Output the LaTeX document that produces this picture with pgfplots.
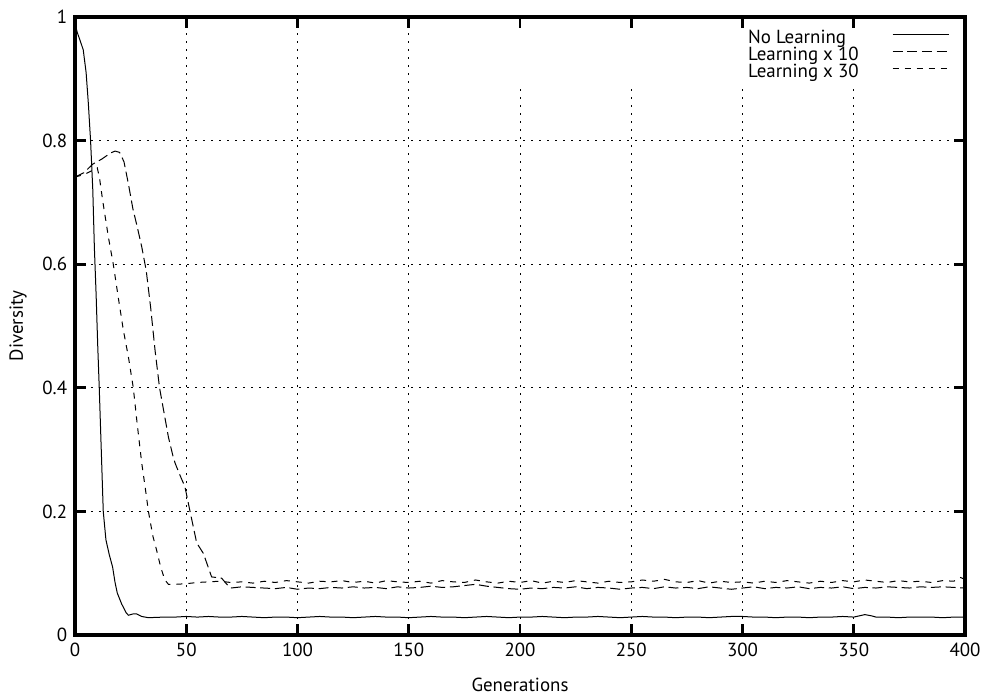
\documentclass[border=0pt]{standalone}
\usepackage{fontspec}
\setmainfont{PT Sans}[Scale=1.42]
\usepackage{pgfplots}
\pgfplotsset{compat=1.18}
\tikzset{gridline/.style={dash pattern=on 1.8pt off 4.2pt, line width=0.6pt, black}}

\begin{document}
\begin{tikzpicture}
% picture frame: 1px = 0.75pt
\path[use as bounding box] (-56.25pt,-46.5pt) rectangle (682.5pt,476.25pt);
\begin{axis}[
  at={(0,0)}, anchor=south west,
  scale only axis, width=667.5pt, height=463.5pt,
  xmin=0, xmax=400, ymin=0, ymax=1,
  xtick={0,50,...,400}, ytick={0,0.2,0.4,0.6,0.8,1},
  line width=2.4pt,
  tick align=inside, major tick length=8pt,
  every tick/.append style={black, line width=2pt},
  /pgf/number format/assume math mode=true,
  xlabel={Generations}, ylabel={Diversity},
  xlabel style={at={(axis description cs:0.5,-0.081)}, anchor=center},
  ylabel style={at={(axis description cs:-0.064,0.5)}, anchor=center},
  legend style={draw=none, fill=none, inner sep=0pt, font=\normalsize,
    at={(axis description cs:0.753,0.9816)}, anchor=north west,
    row sep=-0.75pt,
    nodes={inner sep=1pt, text height=9pt, text depth=2.5pt},
    /tikz/every odd column/.append style={column sep=24pt}},
  legend cell align=left,
  legend plot pos=right,
  legend image code/.code={\draw[#1] (0pt,3.5pt) -- (42pt,3.5pt);},
  every axis plot/.append style={line width=0.75pt, black},
]
% grid
\draw[gridline] (axis cs:50,0) -- (axis cs:50,1);
\draw[gridline] (axis cs:100,0) -- (axis cs:100,1);
\draw[gridline] (axis cs:150,0) -- (axis cs:150,1);
\draw[gridline] (axis cs:200,0) -- (axis cs:200,0.89);
\draw[gridline] (axis cs:250,0) -- (axis cs:250,0.89);
\draw[gridline] (axis cs:300,0) -- (axis cs:300,0.89);
\draw[gridline] (axis cs:350,0) -- (axis cs:350,0.89);
\draw[gridline] (axis cs:0,0.2) -- (axis cs:400,0.2);
\draw[gridline] (axis cs:0,0.4) -- (axis cs:400,0.4);
\draw[gridline] (axis cs:0,0.6) -- (axis cs:400,0.6);
\draw[gridline] (axis cs:0,0.8) -- (axis cs:400,0.8);

% No Learning
\addplot[solid] coordinates {
(0,0.99)(1,0.975)(2,0.965)(3.7,0.947)(5,0.91)(6,0.86)(7,0.80)(8,0.72)(8.7,0.628)
(9.5,0.55)(10.2,0.47)(10.9,0.40)(11.8,0.30)(12.7,0.20)(13.9,0.154)(15.4,0.13)
(16.9,0.11)(18,0.085)(19,0.068)(21,0.05)(23,0.036)(24,0.032)(26,0.034)(27.7,0.034)
(30,0.030)(33,0.028)(40,0.029)(45,0.029)(50,0.030)(55,0.029)(60,0.030)(65,0.029)
(70,0.029)(75,0.030)(80,0.029)(85,0.028)(90,0.029)(95,0.029)(100,0.028)(105,0.029)
(110,0.030)(115,0.029)(120,0.029)(125,0.028)(130,0.029)(135,0.030)(140,0.029)
(145,0.029)(150,0.028)(155,0.029)(160,0.030)(165,0.029)(170,0.029)(175,0.028)
(180,0.029)(185,0.030)(190,0.029)(195,0.028)(200,0.029)(205,0.029)(210,0.030)
(215,0.029)(220,0.028)(225,0.029)(230,0.029)(235,0.030)(240,0.029)(245,0.028)
(250,0.029)(255,0.030)(260,0.029)(265,0.029)(270,0.028)(275,0.029)(280,0.029)
(285,0.028)(290,0.029)(295,0.030)(300,0.030)(305,0.029)(310,0.029)(315,0.028)
(320,0.029)(325,0.029)(330,0.028)(335,0.029)(340,0.029)(345,0.030)(350,0.029)
(355,0.033)(358,0.031)(360,0.029)(365,0.029)(370,0.028)(375,0.029)(380,0.029)
(385,0.029)(390,0.028)(395,0.029)(400,0.029)
};
\addlegendentry{No Learning}

% Learning x 10
\addplot[dash pattern=on 7.5pt off 3.5pt] coordinates {
(0,0.741)(4,0.748)(8,0.762)(12,0.770)(16,0.780)(18,0.783)(20,0.781)(22,0.766)
(24,0.73)(26,0.69)(28,0.66)(30,0.628)(32,0.59)(34,0.53)(36,0.46)(38,0.40)(40,0.36)
(42,0.32)(44,0.29)(45,0.278)(47,0.26)(49.4,0.24)(51.7,0.20)(54.7,0.149)(57.7,0.132)
(61.4,0.094)(65.9,0.092)(68,0.083)(70,0.076)(75,0.078)(80,0.077)(85,0.076)(90,0.075)
(95,0.077)(100,0.074)(105,0.076)(110,0.075)(115,0.077)(120,0.076)(125,0.078)
(130,0.076)(135,0.077)(140,0.075)(145,0.078)(150,0.076)(155,0.077)(160,0.079)
(165,0.077)(170,0.078)(175,0.080)(180,0.082)(185,0.079)(190,0.077)(195,0.075)
(200,0.074)(205,0.076)(210,0.075)(215,0.077)(220,0.076)(225,0.078)(230,0.075)
(235,0.077)(240,0.076)(245,0.074)(250,0.076)(255,0.077)(260,0.075)(265,0.078)
(270,0.076)(275,0.077)(280,0.075)(285,0.078)(290,0.076)(295,0.074)(300,0.076)
(305,0.078)(310,0.075)(315,0.077)(320,0.076)(325,0.078)(330,0.075)(335,0.077)
(340,0.076)(345,0.078)(350,0.075)(355,0.077)(360,0.076)(365,0.078)(370,0.077)
(375,0.076)(380,0.078)(385,0.077)(390,0.078)(395,0.077)(400,0.076)
};
\addlegendentry{Learning x 10}

% Learning x 30
\addplot[dash pattern=on 4.5pt off 4.5pt] coordinates {
(0,0.741)(4,0.745)(8,0.752)(10,0.756)(11,0.74)(12.4,0.704)(15,0.644)(17.2,0.60)
(19.5,0.545)(21.7,0.494)(24,0.45)(26.2,0.40)(28,0.34)(30,0.278)(31.5,0.24)(33,0.20)
(35,0.16)(36.7,0.137)(38.5,0.11)(40.4,0.089)(42,0.082)(45,0.082)(50,0.083)(55,0.085)
(60,0.086)(65,0.087)(70,0.085)(75,0.086)(80,0.084)(85,0.087)(90,0.085)(95,0.088)
(100,0.086)(105,0.084)(110,0.087)(115,0.086)(120,0.088)(125,0.085)(130,0.087)
(135,0.084)(140,0.088)(145,0.086)(150,0.085)(155,0.087)(160,0.084)(165,0.088)
(170,0.086)(175,0.085)(180,0.089)(185,0.086)(190,0.084)(195,0.087)(200,0.085)
(205,0.088)(210,0.084)(215,0.087)(220,0.085)(225,0.088)(230,0.086)(235,0.084)
(240,0.087)(245,0.085)(250,0.086)(255,0.089)(260,0.087)(265,0.090)(270,0.086)
(275,0.085)(280,0.088)(285,0.084)(290,0.087)(295,0.085)(300,0.086)(305,0.084)
(310,0.087)(315,0.085)(320,0.088)(325,0.086)(330,0.084)(335,0.087)(340,0.085)
(345,0.088)(350,0.086)(355,0.089)(360,0.087)(365,0.085)(370,0.088)(375,0.086)
(380,0.087)(385,0.085)(390,0.088)(395,0.087)(398,0.093)(400,0.090)
};
\addlegendentry{Learning x 30}
\end{axis}
\end{tikzpicture}
\end{document}
